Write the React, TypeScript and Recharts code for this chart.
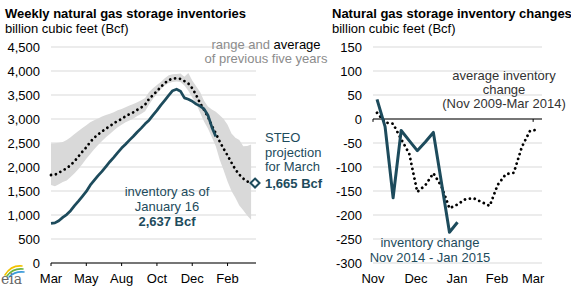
import { ComposedChart, Area, Line, XAxis, YAxis, CartesianGrid, ReferenceLine } from 'recharts'

const FONT = "'Liberation Sans', Arial, Helvetica, sans-serif"
const TEAL = '#1d4b5c'
const BAND = '#d9d9d9'
const GRID = '#d9d9d9'

// ---- left panel: weekly inventories (week index from start of March) ----
const leftTickWeeks = [0, 9, 18, 27, 36, 45]
const leftTickLabels = ['Mar', 'May', 'Aug', 'Oct', 'Dec', 'Feb']
const leftYTicks = [0, 500, 1000, 1500, 2000, 2500, 3000, 3500, 4000, 4500]

const inventory2014 = [
  827, 835, 880, 950, 1010, 1090, 1195, 1290, 1390, 1490,
  1620, 1720, 1820, 1910, 2010, 2110, 2200, 2300, 2395, 2475,
  2560, 2640, 2730, 2810, 2900, 2975, 3080, 3180, 3290, 3390,
  3490, 3590, 3620, 3580, 3440, 3410, 3370, 3310, 3270, 3210,
  3080, 2830, 2637,
]
const fiveYearAvg = [
  1833, 1840, 1880, 1930, 1972, 2040, 2120, 2220, 2320, 2410,
  2520, 2610, 2680, 2740, 2800, 2850, 2910, 2960, 3000, 3060,
  3100, 3140, 3190, 3240, 3300, 3420, 3500, 3580, 3670, 3750,
  3810, 3840, 3850, 3835, 3790, 3740, 3640, 3500, 3330, 3190,
  3050, 2860, 2700, 2530, 2380, 2240, 2090, 1950, 1840, 1760,
  1700, 1675,
]
const fiveYearLow = [
  1625, 1600, 1640, 1690, 1720, 1790, 1870, 1960, 2060, 2170,
  2270, 2370, 2460, 2540, 2620, 2690, 2760, 2830, 2880, 2930,
  2970, 3010, 3060, 3110, 3160, 3300, 3420, 3520, 3620, 3700,
  3750, 3770, 3780, 3770, 3700, 3590, 3450, 3320, 3130, 2950,
  2800, 2620, 2430, 2150, 1930, 1700, 1500, 1360, 1200, 1100,
  990, 900,
]
const fiveYearHigh = [
  2490, 2495, 2505, 2520, 2560, 2620, 2690, 2750, 2810, 2870,
  2930, 2975, 3010, 3050, 3085, 3110, 3140, 3180, 3210, 3245,
  3280, 3310, 3350, 3390, 3440, 3560, 3640, 3710, 3770, 3850,
  3910, 3930, 3940, 3950, 3880, 3960, 3800, 3680, 3560, 3380,
  3260, 3200, 3150, 3080, 3000, 2880, 2700, 2610, 2560, 2430,
  2440, 2470,
]
const steoWeek = 52
const steoMarch = 1665

// ---- right panel: weekly changes (week index from start of November) ----
const rightTickWeeks = [-0.5, 4.85, 9.95, 14.9, 19.4]
const rightTickLabels = ['Nov', 'Dec', 'Jan', 'Feb', 'Mar']
const rightYTicks = [150, 100, 50, 0, -50, -100, -150, -200, -250, -300]
const change2014 = [41, -16, -164, -24, -45, -66, -48, -28, -132, -236, -215]
const avgChange = [
  13, -7, -10, -42, -72, -152, -138, -113, -140, -186,
  -178, -167, -165, -173, -181, -137, -115, -112, -58, -25,
  -22,
]

const leftRows = Array.from({ length: steoWeek + 1 }, (_, w) => ({
  week: w,
  inventory: inventory2014[w] ?? null,
  avg: fiveYearAvg[w] ?? null,
  range: w < fiveYearLow.length ? [fiveYearLow[w], fiveYearHigh[w]] : null,
  steo: w === steoWeek ? steoMarch : null,
}))

const rightRows = avgChange.map((v, k) => ({
  week: k,
  avg: v,
  change: change2014[k] ?? null,
}))

const fmt = (v: number) => v.toLocaleString('en-US')

// hollow diamond for the STEO end-of-March point
function SteoDot(props: any) {
  const { cx, cy, payload, index } = props
  if (payload?.steo == null || cx == null || cy == null) return <g key={index} />
  const r = 4.5
  return (
    <polygon
      key={index}
      points={`${cx},${cy - r} ${cx + r},${cy} ${cx},${cy + r} ${cx - r},${cy}`}
      fill="#fff"
      stroke={TEAL}
      strokeWidth={2}
    />
  )
}

const tickStyle = { fontSize: 13, fill: '#000', fontFamily: FONT }

export default function App() {
  return (
    <div
      style={{
        position: 'absolute',
        left: 0,
        top: 0,
        width: 571,
        height: 288,
        background: '#fff',
        fontFamily: FONT,
        overflow: 'hidden',
      }}
    >
      <div style={{ position: 'absolute', left: 0, top: 0 }}>
        <ComposedChart
          width={290}
          height={288}
          data={leftRows}
          margin={{ top: 47, right: 34, bottom: 0, left: 0 }}
        >
          <CartesianGrid vertical={false} stroke={GRID} />
          <XAxis
            dataKey="week"
            type="number"
            domain={[0, 52.25]}
            ticks={leftTickWeeks}
            interval={0}
            tickFormatter={(v: number) => leftTickLabels[leftTickWeeks.indexOf(v)] ?? ''}
            height={25}
            stroke="#000"
            tickSize={3}
            tickMargin={8}
            tick={tickStyle}
          />
          <YAxis
            type="number"
            domain={[0, 4500]}
            ticks={leftYTicks}
            interval={0}
            width={51}
            axisLine={false}
            tickLine={false}
            tickSize={0}
            tickMargin={11}
            tickFormatter={fmt}
            tick={tickStyle}
          />
          <Area
            type="linear"
            dataKey="range"
            stroke="none"
            fill={BAND}
            fillOpacity={1}
            isAnimationActive={false}
          />
          <Line
            type="linear"
            dataKey="avg"
            stroke="#000"
            strokeWidth={2.8}
            strokeDasharray="0.01 5"
            strokeLinecap="round"
            dot={false}
            isAnimationActive={false}
          />
          <Line
            type="linear"
            dataKey="inventory"
            stroke={TEAL}
            strokeWidth={2.75}
            strokeLinejoin="round"
            dot={false}
            isAnimationActive={false}
          />
          <Line
            type="linear"
            dataKey="steo"
            stroke="none"
            dot={SteoDot}
            isAnimationActive={false}
          />
        </ComposedChart>
      </div>

      <div style={{ position: 'absolute', left: 290, top: 0 }}>
        <ComposedChart
          width={281}
          height={288}
          data={rightRows}
          margin={{ top: 47, right: 29, bottom: 0, left: 0 }}
        >
          <CartesianGrid vertical={false} stroke={GRID} />
          <XAxis
            dataKey="week"
            type="number"
            domain={[-0.5, 20.5]}
            allowDataOverflow
            ticks={rightTickWeeks}
            interval={0}
            tickFormatter={(v: number) => rightTickLabels[rightTickWeeks.indexOf(v)] ?? ''}
            height={25}
            axisLine={false}
            tickLine={false}
            tickSize={3}
            tickMargin={8}
            tick={tickStyle}
          />
          <YAxis
            type="number"
            domain={[-300, 150]}
            ticks={rightYTicks}
            interval={0}
            width={83}
            axisLine={false}
            tickLine={false}
            tickSize={0}
            tickMargin={11}
            tick={tickStyle}
          />
          <ReferenceLine y={0} stroke="#000" strokeWidth={1} ifOverflow="visible" />
          <ReferenceLine
            segment={[{ x: rightTickWeeks[0], y: 0 }, { x: rightTickWeeks[0], y: -6 }]}
            stroke="#000"
            ifOverflow="visible"
          />
          <ReferenceLine
            segment={[{ x: rightTickWeeks[4], y: 0 }, { x: rightTickWeeks[4], y: -6 }]}
            stroke="#000"
            ifOverflow="visible"
          />
          <Line
            type="linear"
            dataKey="avg"
            stroke="#000"
            strokeWidth={2.8}
            strokeDasharray="0.01 5"
            strokeLinecap="round"
            dot={false}
            isAnimationActive={false}
          />
          <Line
            type="linear"
            dataKey="change"
            stroke={TEAL}
            strokeWidth={3}
            strokeLinejoin="round"
            dot={false}
            isAnimationActive={false}
          />
        </ComposedChart>
      </div>

      {/* titles, annotations and logo */}
      <svg
        width={571}
        height={288}
        style={{ position: 'absolute', left: 0, top: 0, pointerEvents: 'none' }}
        fontFamily={FONT}
        fontSize={13}
      >
        <text x={5} y={18} fontWeight="bold" fill="#000">Weekly natural gas storage inventories</text>
        <text x={5} y={32.5} fill="#000">billion cubic feet (Bcf)</text>
        <text x={332} y={18} fontWeight="bold" fill="#000">Natural gas storage inventory changes</text>
        <text x={332} y={32.5} fill="#000">billion cubic feet (Bcf)</text>

        <text x={266} y={49} textAnchor="middle">
          <tspan fill="#8c8c8c">range and </tspan>
          <tspan fill="#000">average</tspan>
        </text>
        <text x={266} y={63} textAnchor="middle" fill="#8c8c8c">of previous five years</text>

        <g fill={TEAL}>
          <text x={265} y={142}>STEO</text>
          <text x={265} y={156.5}>projection</text>
          <text x={265} y={171}>for March</text>
          <text x={265} y={188} fontWeight="bold">1,665 Bcf</text>

          <text x={167} y={196} textAnchor="middle">inventory as of</text>
          <text x={167} y={210.5} textAnchor="middle">January 16</text>
          <text x={167} y={226} textAnchor="middle" fontWeight="bold">2,637 Bcf</text>

          <text x={430} y={247} textAnchor="middle">inventory change</text>
          <text x={430} y={261.5} textAnchor="middle">Nov 2014 - Jan 2015</text>
        </g>

        <g fill="#333" textAnchor="middle">
          <text x={504} y={80}>average inventory</text>
          <text x={504} y={93.5}>change</text>
          <text x={504} y={107.5}>(Nov 2009-Mar 2014)</text>
        </g>

        <g fill="none" strokeWidth={1.6} strokeLinecap="round">
          <path d="M5 275 Q11 265 22 266" stroke="#f2c200" />
          <path d="M7 276 Q13 268 23 269" stroke="#6cb33f" />
          <path d="M9 277 Q15 271 24 272" stroke="#3a9ad9" />
        </g>
        <text x={1} y={284} fontFamily="'DejaVu Serif', 'Liberation Serif', serif" fontSize={14} fill="#666">eia</text>
      </svg>
    </div>
  )
}
